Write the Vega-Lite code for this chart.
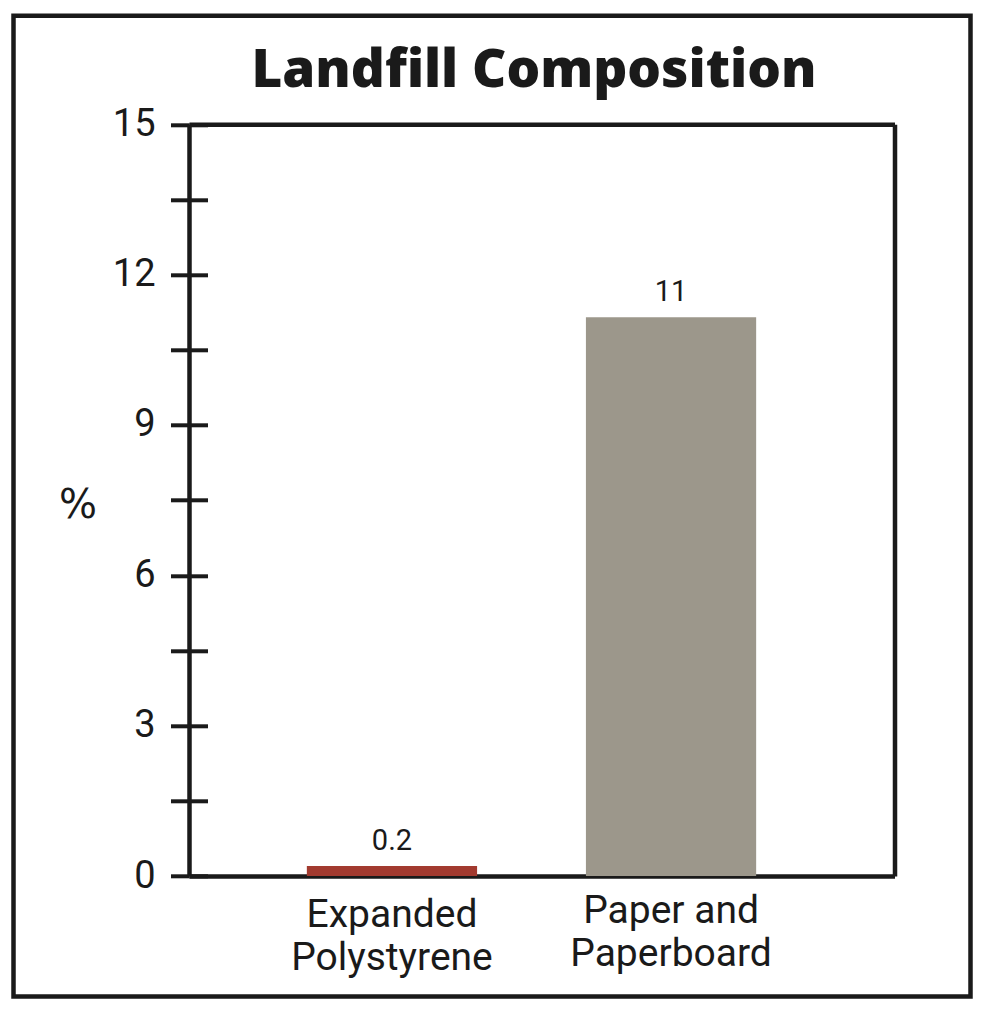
{
  "$schema": "https://vega.github.io/schema/vega-lite/v6.json",
  "autosize": "none",
  "width": 957,
  "height": 980.7,
  "padding": {"left": 13.5, "top": 15.8, "right": 19.5, "bottom": 19.5},
  "background": "white",
  "config": {
    "view": {"stroke": "#1a1a1a", "strokeWidth": 4.5},
    "axis": {
      "domainColor": "#1a1a1a",
      "domainWidth": 4.5,
      "tickColor": "#1a1a1a",
      "tickWidth": 4,
      "labelColor": "#1a1a1a",
      "titleColor": "#1a1a1a",
      "grid": false
    }
  },
  "data": {
    "values": [
      {"material": "Expanded Polystyrene", "percent": 0.2, "label": "0.2"},
      {"material": "Paper and Paperboard", "percent": 11.15, "label": "11"}
    ]
  },
  "resolve": {"axis": {"x": "independent", "y": "independent"}},
  "layer": [
    {
      "mark": {"type": "bar"},
      "encoding": {
        "x": {
          "field": "material",
          "type": "nominal",
          "sort": null,
          "scale": {"range": [175.5, 881], "paddingInner": 0.39, "paddingOuter": 0.459, "align": 0.46},
          "axis": {
            "orient": "bottom",
            "offset": -120.5,
            "title": null,
            "ticks": false,
            "tickSize": 0,
            "labelAngle": 0,
            "labelLimit": 0,
            "labelFont": "Roboto",
            "labelFontSize": 39,
            "labelLineHeight": 43,
            "labelBaseline": "top",
            "labelPadding": {"condition": {"test": "datum.value === 'Expanded Polystyrene'", "value": 19}, "value": 15},
            "labelExpr": "datum.value === 'Expanded Polystyrene' ? ['Expanded', 'Polystyrene'] : ['Paper and', 'Paperboard']"
          }
        },
        "y": {
          "field": "percent",
          "type": "quantitative",
          "scale": {"domain": [0, 15], "range": [860.2, 108.5], "nice": false, "zero": true},
          "axis": {
            "orient": "left",
            "offset": -175.5,
            "values": [0, 1.5, 3, 4.5, 6, 7.5, 9, 10.5, 12, 13.5, 15],
            "tickSize": 18.5,
            "labelExpr": "datum.value % 3 === 0 ? datum.label : ''",
            "labelOverlap": false,
            "labelFlush": false,
            "labelFont": "Roboto",
            "labelFontSize": 38,
            "labelPadding": 15.5,
            "labelBaseline": "middle",
            "title": "%",
            "titleAngle": 0,
            "titleX": -111.5,
            "titleY": 490,
            "titleAlign": "center",
            "titleBaseline": "middle",
            "titleFont": "DejaVu Sans",
            "titleFontSize": 40,
            "titleFontWeight": "normal"
          }
        },
        "color": {
          "field": "material",
          "type": "nominal",
          "sort": null,
          "scale": {"range": ["#a23a2f", "#9c978b"]},
          "legend": null
        }
      }
    },
    {
      "mark": {"type": "text", "font": "Roboto", "fontSize": 29, "baseline": "alphabetic", "dy": -16, "color": "#1a1a1a"},
      "encoding": {
        "x": {
          "field": "material",
          "type": "nominal",
          "sort": null,
          "axis": {
            "orient": "top",
            "offset": -108.5,
            "ticks": false,
            "labels": false,
            "title": "Landfill Composition",
            "titleFont": "Open Sans",
            "titleFontSize": 53,
            "titleFontWeight": 800,
            "titleX": 520,
            "titleY": -38,
            "titleAlign": "center",
            "titleBaseline": "alphabetic"
          }
        },
        "y": {
          "field": "percent",
          "type": "quantitative",
          "axis": {"orient": "right", "offset": -76, "ticks": false, "labels": false, "title": null}
        },
        "text": {"field": "label"}
      }
    },
    {
      "mark": {"type": "bar", "opacity": 0},
      "encoding": {
        "x": {"field": "material", "type": "nominal", "sort": null, "axis": null},
        "y": {
          "field": "percent",
          "type": "quantitative",
          "axis": {
            "orient": "left",
            "offset": -194,
            "domain": false,
            "labels": false,
            "values": [0, 1.5, 3, 4.5, 6, 7.5, 9, 10.5, 12, 13.5, 15],
            "tickSize": 18.5,
            "title": null
          }
        }
      }
    }
  ]
}
